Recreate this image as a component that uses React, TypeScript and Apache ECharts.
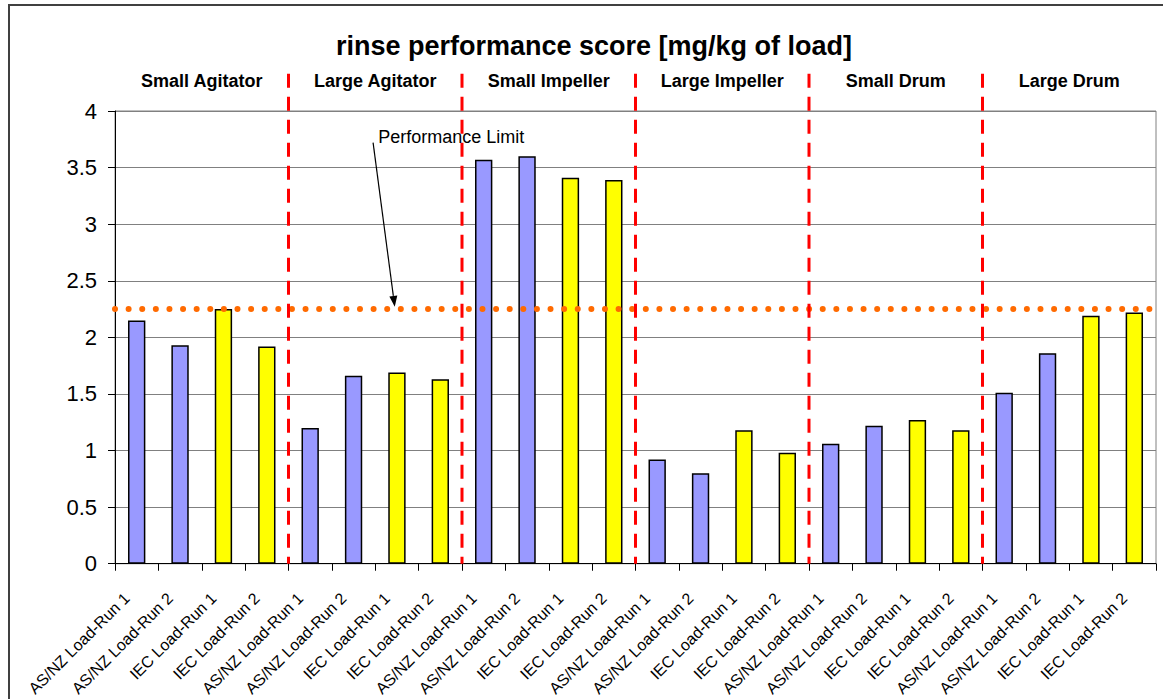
import React, { useEffect, useRef } from "react";
import * as echarts from "echarts";

const titleText = "rinse performance score [mg/kg of load]";

const categories = [
  "AS/NZ Load-Run 1", "AS/NZ Load-Run 2", "IEC Load-Run 1", "IEC Load-Run 2",
  "AS/NZ Load-Run 1", "AS/NZ Load-Run 2", "IEC Load-Run 1", "IEC Load-Run 2",
  "AS/NZ Load-Run 1", "AS/NZ Load-Run 2", "IEC Load-Run 1", "IEC Load-Run 2",
  "AS/NZ Load-Run 1", "AS/NZ Load-Run 2", "IEC Load-Run 1", "IEC Load-Run 2",
  "AS/NZ Load-Run 1", "AS/NZ Load-Run 2", "IEC Load-Run 1", "IEC Load-Run 2",
  "AS/NZ Load-Run 1", "AS/NZ Load-Run 2", "IEC Load-Run 1", "IEC Load-Run 2",
];

const groups = [
  "Small Agitator", "Large Agitator", "Small Impeller",
  "Large Impeller", "Small Drum", "Large Drum",
];

const scores = [
  2.15, 1.93, 2.25, 1.92,
  1.2, 1.66, 1.69, 1.63,
  3.57, 3.6, 3.41, 3.39,
  0.92, 0.8, 1.18, 0.98,
  1.06, 1.22, 1.27, 1.18,
  1.51, 1.86, 2.19, 2.22,
];

const performanceLimit = 2.25;
const annotationText = "Performance Limit";
// annotation positions in data units: [category index, score]
const annotationLabelAt = [5.57, 3.77];
const arrowFrom = [5.45, 3.72];
const arrowTo = [5.95, 2.27];
const barsPerGroup = 4;
const dividerTopValue = 4.33;

const asnzColor = "#9999FF";
const iecColor = "#FFFF00";
const font = "'Liberation Sans', Arial, Helvetica, sans-serif";

export default function App() {
  const ref = useRef<HTMLDivElement>(null);

  useEffect(() => {
    const chart = echarts.init(ref.current!, null, { renderer: "svg" });
    chart.setOption({
      animation: false,
      backgroundColor: "#ffffff",
      title: {
        text: titleText,
        left: 589,
        top: 27,
        textAlign: "center",
        textStyle: { fontFamily: font, fontSize: 27, fontWeight: "bold", color: "#000" },
      },
      grid: {
        left: 115,
        right: 7,
        top: 111,
        bottom: 135,
        show: true,
        borderColor: "#808080",
        borderWidth: 1,
      },
      xAxis: [
        {
          type: "category",
          data: categories,
          axisLine: { lineStyle: { color: "#000", width: 1 } },
          axisTick: { show: true, length: 7, lineStyle: { color: "#000" } },
          axisLabel: {
            interval: 0,
            rotate: 45,
            fontSize: 16,
            fontFamily: font,
            color: "#000",
            margin: 22,
            padding: [0, 14, 0, 0],
          },
          splitLine: { show: false },
        },
        {
          type: "category",
          data: groups,
          position: "top",
          axisLine: { show: false },
          axisTick: { show: false },
          axisLabel: {
            interval: 0,
            fontSize: 18,
            fontWeight: "bold",
            fontFamily: font,
            color: "#000",
            margin: 21,
          },
          splitLine: { show: false },
        },
      ],
      yAxis: {
        type: "value",
        min: 0,
        max: 4,
        interval: 0.5,
        axisLine: { show: true, lineStyle: { color: "#000" } },
        axisTick: { show: true, length: 7, lineStyle: { color: "#000" } },
        axisLabel: { fontSize: 22, fontFamily: font, color: "#000", margin: 18 },
        splitLine: { lineStyle: { color: "#808080", width: 1 } },
      },
      series: [
        {
          type: "bar",
          xAxisIndex: 0,
          barWidth: "40%",
          data: scores.map((v, i) => ({
            value: v,
            itemStyle: { color: categories[i].startsWith("AS/NZ") ? asnzColor : iecColor },
          })),
          itemStyle: { borderColor: "#000", borderWidth: 1.5 },
          markLine: {
            silent: true,
            symbol: "none",
            label: { show: false },
            lineStyle: {
              color: "#FF6A00",
              width: 6,
              type: [0.01, 13.6],
              cap: "round",
            },
            data: [{ yAxis: performanceLimit }],
          },
        },
      ],
    });

    const cx = (idx: number) => {
      const a = chart.convertToPixel({ xAxisIndex: 0 }, 0) as number;
      const b = chart.convertToPixel({ xAxisIndex: 0 }, 1) as number;
      return a + idx * (b - a);
    };
    const cy = (v: number) => chart.convertToPixel({ yAxisIndex: 0 }, v) as number;

    const graphics: any[] = [];
    graphics.push({
      type: "rect",
      z: 100,
      shape: { x: 9, y: 5, width: 1200, height: 800 },
      style: { fill: "none", stroke: "#404040", lineWidth: 2 },
    });
    const yBottom = cy(0);
    const yTop = cy(dividerTopValue);
    for (let k = 1; k < groups.length; k++) {
      const x = cx(k * barsPerGroup - 0.5);
      graphics.push({
        type: "line",
        z: 100,
        shape: { x1: x, y1: yTop, x2: x, y2: yBottom },
        style: { stroke: "#FF0000", lineWidth: 3, lineDash: [14, 9] },
      });
    }
    graphics.push({
      type: "text",
      z: 100,
      x: cx(annotationLabelAt[0]),
      y: cy(annotationLabelAt[1]),
      style: {
        text: annotationText,
        fontSize: 18,
        fontFamily: font,
        fill: "#000",
        align: "left",
        verticalAlign: "middle",
      },
    });
    const sx = cx(arrowFrom[0]);
    const sy = cy(arrowFrom[1]);
    const tx = cx(arrowTo[0]);
    const ty = cy(arrowTo[1]);
    const len = Math.hypot(tx - sx, ty - sy);
    const ux = (tx - sx) / len;
    const uy = (ty - sy) / len;
    const bx = tx - ux * 11;
    const by = ty - uy * 11;
    graphics.push({
      type: "line",
      z: 100,
      shape: { x1: sx, y1: sy, x2: bx, y2: by },
      style: { stroke: "#000", lineWidth: 1.2 },
    });
    graphics.push({
      type: "polygon",
      z: 100,
      shape: {
        points: [
          [tx, ty],
          [bx - uy * 4, by + ux * 4],
          [bx + uy * 4, by - ux * 4],
        ],
      },
      style: { fill: "#000" },
    });
    chart.setOption({ graphic: graphics });

    return () => chart.dispose();
  }, []);

  return (
    <div
      ref={ref}
      style={{ position: "absolute", left: 0, top: 0, width: 1163, height: 699 }}
    />
  );
}
